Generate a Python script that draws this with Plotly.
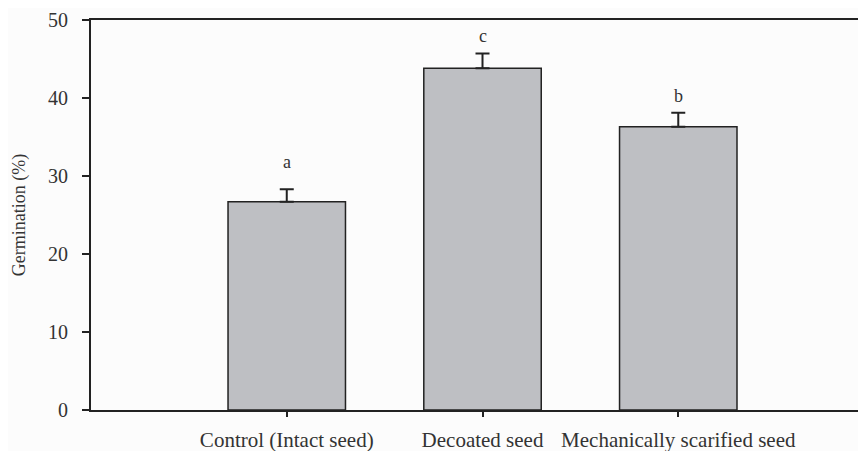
import plotly.graph_objects as go

categories = ["Control (Intact seed)", "Decoated seed", "Mechanically scarified seed"]
germination = [26.7, 43.8, 36.3]
error_up = [1.6, 1.9, 1.8]
letters = ["a", "c", "b"]
letter_y = [31.8, 47.9, 40.3]

x_pos = list(range(len(categories)))

fig = go.Figure()
fig.add_trace(go.Bar(
    x=x_pos, y=germination, width=0.6,
    marker=dict(color="#bebfc3", line=dict(color="#222222", width=1.5)),
    error_y=dict(type="data", symmetric=False, array=error_up,
                 arrayminus=[0] * len(error_up),
                 color="#222222", thickness=2, width=7),
))
for xi, t, ly in zip(x_pos, letters, letter_y):
    fig.add_annotation(x=xi, y=ly, text=t, showarrow=False,
                       font=dict(family="Liberation Serif", size=18, color="#333333"),
                       yanchor="middle")

fig.update_layout(
    width=858, height=443,
    margin=dict(l=83, r=0, t=12, b=41),
    paper_bgcolor="#fcfcfc", plot_bgcolor="#fcfcfc",
    showlegend=False,
    font=dict(family="Liberation Serif", color="#333333", size=18),
    bargap=0.4,
)
fig.update_xaxes(
    range=[-1, 2.959], tickvals=x_pos, ticktext=categories,
    showline=True, linecolor="#222222", linewidth=2, mirror=True,
    ticks="outside", ticklen=5, tickcolor="#222222", tickwidth=1.5,
    showgrid=False, zeroline=False,
    tickfont=dict(size=21),
    ticklabelstandoff=5,
)
fig.update_yaxes(
    range=[0, 50], tickvals=[0, 10, 20, 30, 40, 50],
    showline=True, linecolor="#222222", linewidth=2,
    ticks="outside", ticklen=7, tickcolor="#222222", tickwidth=1.5,
    showgrid=False, zeroline=False,
    title=dict(text="Germination (%)", font=dict(size=18), standoff=18),
    tickfont=dict(size=20),
    ticklabelstandoff=10,
)
fig.write_html("out.html")
